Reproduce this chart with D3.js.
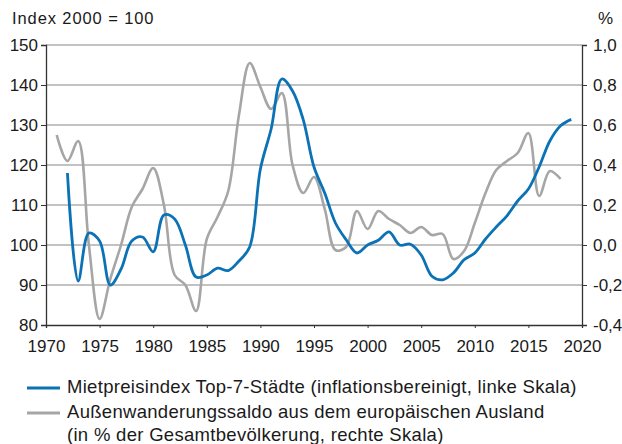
<!DOCTYPE html>
<html>
<head>
<meta charset="utf-8">
<script src="https://cdn.jsdelivr.net/npm/d3@7"></script>
<style>
  body { margin: 0; background: #fff; }
  text { font-family: "Liberation Sans", Arial, sans-serif; fill: #1a1a1a; }
</style>
</head>
<body>
<script>
// Mietpreisindex Top-7-Staedte, Index 2000 = 100 (linke Skala)
var rentYears = d3.range(1972, 2020);
var rentValues = [118, 91, 103, 101, 90, 94, 101, 102, 98.3, 107.5,
  106.5, 100, 92, 92.5, 94.2, 93.6, 96, 99.5, 119, 129,
  141.5, 138.5, 131.3, 119.5, 113, 105.5, 101.3, 98, 100, 101.2,
  103.3, 100, 100.2, 97.5, 92.2, 91.3, 93, 96.3, 98, 101.5,
  104.5, 107.3, 111, 114, 119.5, 126, 129.8, 131.4];

// Aussenwanderungssaldo europ. Ausland, % der Bevoelkerung (rechte Skala)
var migYears = d3.range(1971, 2019);
var migValues = [0.55, 0.42, 0.52, 0.0, -0.37, -0.17, 0.0, 0.19, 0.28, 0.385,
  0.2, -0.15, -0.2, -0.33, 0.03, 0.14, 0.27, 0.65, 0.91, 0.79,
  0.68, 0.76, 0.4, 0.26, 0.34, 0.18, -0.025, -0.01, 0.17, 0.08,
  0.17, 0.13, 0.1, 0.06, 0.09, 0.05, 0.055, -0.07, -0.03, 0.11,
  0.26, 0.375, 0.42, 0.46, 0.56, 0.245, 0.37, 0.33];

var xTicks = d3.range(1970, 2021, 5);
var leftTicks = d3.range(80, 151, 10);
var rightTicks = [-0.4, -0.2, 0, 0.2, 0.4, 0.6, 0.8, 1.0];

var legendItems = [
  {color: '#0b72b5', lines: ['Mietpreisindex Top-7-Städte (inflationsbereinigt, linke Skala)']},
  {color: '#a6a6a6', lines: ['Außenwanderungssaldo aus dem europäischen Ausland', '(in % der Gesamtbevölkerung, rechte Skala)']}
];

var W = 622, H = 444;
var m = {left: 46, right: 40, top: 45, bottom: 119};

var svg = d3.select('body').append('svg').attr('width', W).attr('height', H);

var x = d3.scaleLinear().domain([1970, 2020]).range([m.left, W - m.right]);
var yL = d3.scaleLinear().domain([80, 150]).range([H - m.bottom, m.top]);
var yR = d3.scaleLinear().domain([-0.4, 1.0]).range([H - m.bottom, m.top]);

var fmtR = function(d){ return d3.format('.1f')(d).replace('.', ',').replace('−', '-'); };

// grid
svg.append('g').selectAll('line').data(leftTicks.slice(1)).enter().append('line')
  .attr('x1', m.left).attr('x2', W - m.right)
  .attr('y1', function(d){ return yL(d); }).attr('y2', function(d){ return yL(d); })
  .style('stroke', '#868686').style('stroke-width', 1.2);

// axes
var axL = svg.append('g').attr('transform', 'translate(' + m.left + ',0)')
  .call(d3.axisLeft(yL).tickValues(leftTicks).tickSize(5).tickPadding(3));
var axR = svg.append('g').attr('transform', 'translate(' + (W - m.right) + ',0)')
  .call(d3.axisRight(yR).tickValues(rightTicks).tickSize(5).tickPadding(6).tickFormat(fmtR));
var axB = svg.append('g').attr('transform', 'translate(0,' + (H - m.bottom) + ')')
  .call(d3.axisBottom(x).tickValues(xTicks).tickSize(3).tickPadding(12).tickFormat(d3.format('d')));

[axL, axR, axB].forEach(function(a){
  a.select('.domain').style('stroke', '#333').style('stroke-width', 1.3);
  a.selectAll('.tick line').style('stroke', '#333');
  a.selectAll('text').style('font-size', '17px').style('fill', '#1a1a1a')
    .style('font-family', '"Liberation Sans", Arial, sans-serif');
});
axB.select('.tick:last-of-type line').remove();

// lines
var lineR = d3.line().curve(d3.curveCatmullRom.alpha(0.5))
  .x(function(d, i){ return x(migYears[i]); }).y(function(d){ return yR(d); });
var lineL = d3.line().curve(d3.curveCatmullRom.alpha(0.5))
  .x(function(d, i){ return x(rentYears[i]); }).y(function(d){ return yL(d); });

svg.append('path').datum(migValues).attr('d', lineR)
  .style('fill', 'none').style('stroke', '#a6a6a6').style('stroke-width', 2.6);
svg.append('path').datum(rentValues).attr('d', lineL)
  .style('fill', 'none').style('stroke', '#0b72b5').style('stroke-width', 2.8);

// headers
svg.append('text').attr('x', 12).attr('y', 24).text('Index 2000 = 100')
  .style('font-size', '16.5px').style('letter-spacing', '0.9px');
svg.append('text').attr('x', 613).attr('y', 24).attr('text-anchor', 'end').text('%').style('font-size', '17px');

// legend
var ly = [393, 418];
legendItems.forEach(function(it, i){
  svg.append('line').attr('x1', 27).attr('x2', 60)
    .attr('y1', ly[i] - 5).attr('y2', ly[i] - 5)
    .style('stroke', it.color).style('stroke-width', 2.8);
  it.lines.forEach(function(t, j){
    svg.append('text').attr('x', 67).attr('y', ly[i] + j * 23).text(t)
      .style('font-size', '18.5px').style('letter-spacing', '0.3px');
  });
});
</script>
</body>
</html>
